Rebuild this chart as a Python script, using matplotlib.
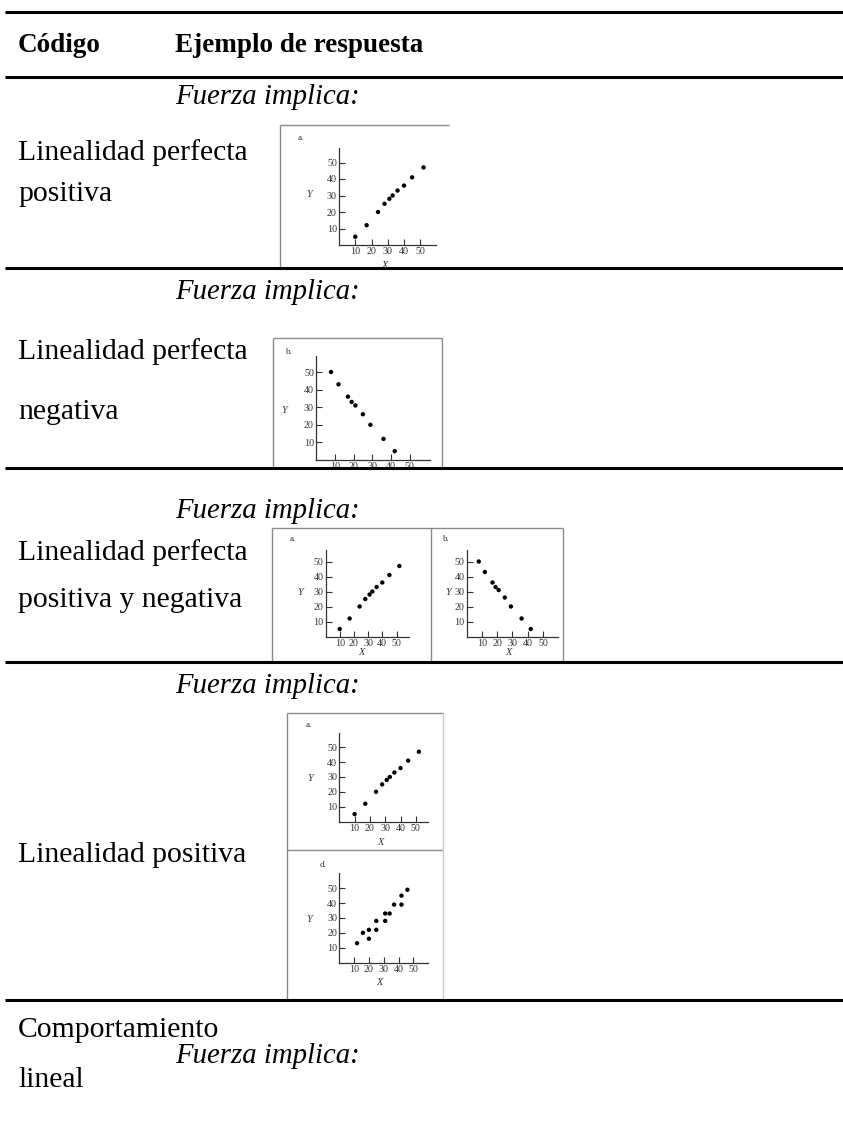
import matplotlib
matplotlib.use("Agg")
import matplotlib.pyplot as plt
from matplotlib.patches import Rectangle

W, H = 843, 1122
DPI = 100

# ---------------- data ----------------
header_codigo = "Código"
header_ejemplo = "Ejemplo de respuesta"
fuerza_text = "Fuerza implica:"

row_codes = [
    ["Linealidad perfecta", "positiva"],
    ["Linealidad perfecta", "negativa"],
    ["Linealidad perfecta", "positiva y negativa"],
    ["Linealidad positiva"],
    ["Comportamiento", "lineal"],
]

tick_values = [10, 20, 30, 40, 50]
tick_labels = ["10", "20", "30", "40", "50"]

plot_a_x = [10, 17, 24, 28, 31, 33, 36, 40, 45, 52]
plot_a_y = [5, 12, 20, 25, 28, 30, 33, 36, 41, 47]

plot_b_x = [8, 12, 17, 19, 21, 25, 29, 36, 42]
plot_b_y = [50, 43, 36, 33, 31, 26, 20, 12, 5]

plot_d_x = [12, 16, 20, 20, 25, 25, 31, 31, 34, 37, 42, 42, 46]
plot_d_y = [13, 20, 22, 16, 28, 22, 33, 28, 33, 39, 45, 39, 49]

# ---------------- figure ----------------
fig = plt.figure(figsize=(W / DPI, H / DPI), dpi=DPI)
fig.patch.set_facecolor("white")
bg = fig.add_axes([0, 0, 1, 1])
bg.set_xlim(0, W)
bg.set_ylim(H, 0)
bg.axis("off")

SERIF = "Liberation Serif"
FS_HEAD = 19.5
FS_CODE = 21.3
FS_IT = 20.7

# header
bg.text(18, 45, header_codigo, fontsize=FS_HEAD, fontweight="bold", family=SERIF, va="center")
bg.text(175, 45, header_ejemplo, fontsize=FS_HEAD, fontweight="bold", family=SERIF, va="center")

# code column text
code_pos = [
    [153, 194],
    [352, 412],
    [553, 600],
    [855],
    [1030, 1080],
]
for lines, ys in zip(row_codes, code_pos):
    for t, y in zip(lines, ys):
        bg.text(18, y, t, fontsize=FS_CODE, family=SERIF, va="center")

# "Fuerza implica:" texts
for y in [97, 292, 511, 686, 1056]:
    bg.text(175, y, fuerza_text, fontsize=FS_IT, style="italic", family=SERIF, va="center")

GRAY = "#8a8a8a"
LIGHT = "#c8c8c8"

def seg(x0, y0, x1, y1, c=GRAY, lw=1.0):
    bg.plot([x0, x1], [y0, y1], color=c, lw=lw, zorder=5, solid_capstyle="butt")

# frames
# row 1
seg(280, 125, 280, 268)
seg(280, 125, 449, 125)
# row 2
seg(273, 338, 273, 468)
seg(273, 338, 442, 338)
seg(442, 338, 442, 468)
# row 3
seg(272, 528, 272, 662)
seg(272, 528, 563, 528)
seg(430.5, 528, 430.5, 662)
seg(563, 528, 563, 662)
# row 4
seg(287, 713, 287, 1000)
seg(287, 713, 443, 713)
seg(287, 850, 443, 850)
seg(443, 713, 443, 1000, c=LIGHT)


def mini(ox, oy, sx, sy, xmax, ymax, xs, ys, letter, lpos, ypos, xpos):
    """ox, oy: pixel position of data origin; sx, sy: px per unit."""
    left = ox / W
    bottom = 1 - oy / H
    width = xmax * sx / W
    height = ymax * sy / H
    ax = fig.add_axes([left, bottom, width, height])
    ax.set_xlim(0, xmax)
    ax.set_ylim(0, ymax)
    ax.patch.set_alpha(0)
    for s in ["top", "right"]:
        ax.spines[s].set_visible(False)
    for s in ["left", "bottom"]:
        ax.spines[s].set_color("#333333")
        ax.spines[s].set_linewidth(0.9)
    ax.set_xticks(tick_values)
    ax.set_yticks(tick_values)
    ax.set_xticklabels(tick_labels, family=SERIF, fontsize=7.2, color="#333333")
    ax.set_yticklabels(tick_labels, family=SERIF, fontsize=7.2, color="#333333")
    ax.tick_params(direction="in", length=4, width=0.8, color="#333333", pad=1.5)
    ax.scatter(xs, ys, s=10, color="black", edgecolors="none", clip_on=False, zorder=3)
    bg.text(lpos[0], lpos[1], letter, fontsize=6.5, family=SERIF, color="#333333",
            va="center", ha="left")
    bg.text(ypos[0], ypos[1], "Y", fontsize=7.5, family=SERIF, style="italic",
            color="#333333", va="center", ha="center")
    bg.text(xpos[0], xpos[1], "X", fontsize=7.5, family=SERIF, style="italic",
            color="#333333", va="center", ha="center", zorder=4)
    return ax

# row 1: a
mini(339, 245, 1.625, 1.65, 60, 59, plot_a_x, plot_a_y, "a.", (298, 138), (309, 194), (385, 265))
# row 2: b
mini(316, 460, 1.875, 1.76, 61, 59, plot_b_x, plot_b_y, "b.", (286, 352), (284, 410), (362, 472))
# row 3: a and b
mini(325.5, 636.5, 1.42, 1.5, 59, 58, plot_a_x, plot_a_y, "a.", (290, 539), (300, 592), (362, 652))
mini(466.5, 636.5, 1.53, 1.5, 59.5, 58, plot_b_x, plot_b_y, "b.", (443, 539), (448, 592), (509, 652))
# row 4: a and d
mini(339.3, 821.5, 1.53, 1.485, 58, 59.4, plot_a_x, plot_a_y, "a.", (306, 725), (310, 778), (381, 842))
mini(339.3, 962.5, 1.48, 1.485, 60, 60, plot_d_x, plot_d_y, "d.", (320, 865), (309, 919), (380, 982))

# overlay for horizontal rules (drawn on top of the mini plots)
ov = fig.add_axes([0, 0, 1, 1], zorder=20)
ov.set_xlim(0, W)
ov.set_ylim(H, 0)
ov.axis("off")
ov.patch.set_alpha(0)
# white strip below row 2 rule to cut the overflowing labels
ov.add_patch(Rectangle((270, 469), 180, 12, facecolor="white", edgecolor="none"))
for y in [12, 77, 268, 468, 662, 1000]:
    ov.plot([5, W], [y, y], color="black", lw=2.2, solid_capstyle="butt")

fig.savefig("out.png", dpi=DPI, facecolor="white")
